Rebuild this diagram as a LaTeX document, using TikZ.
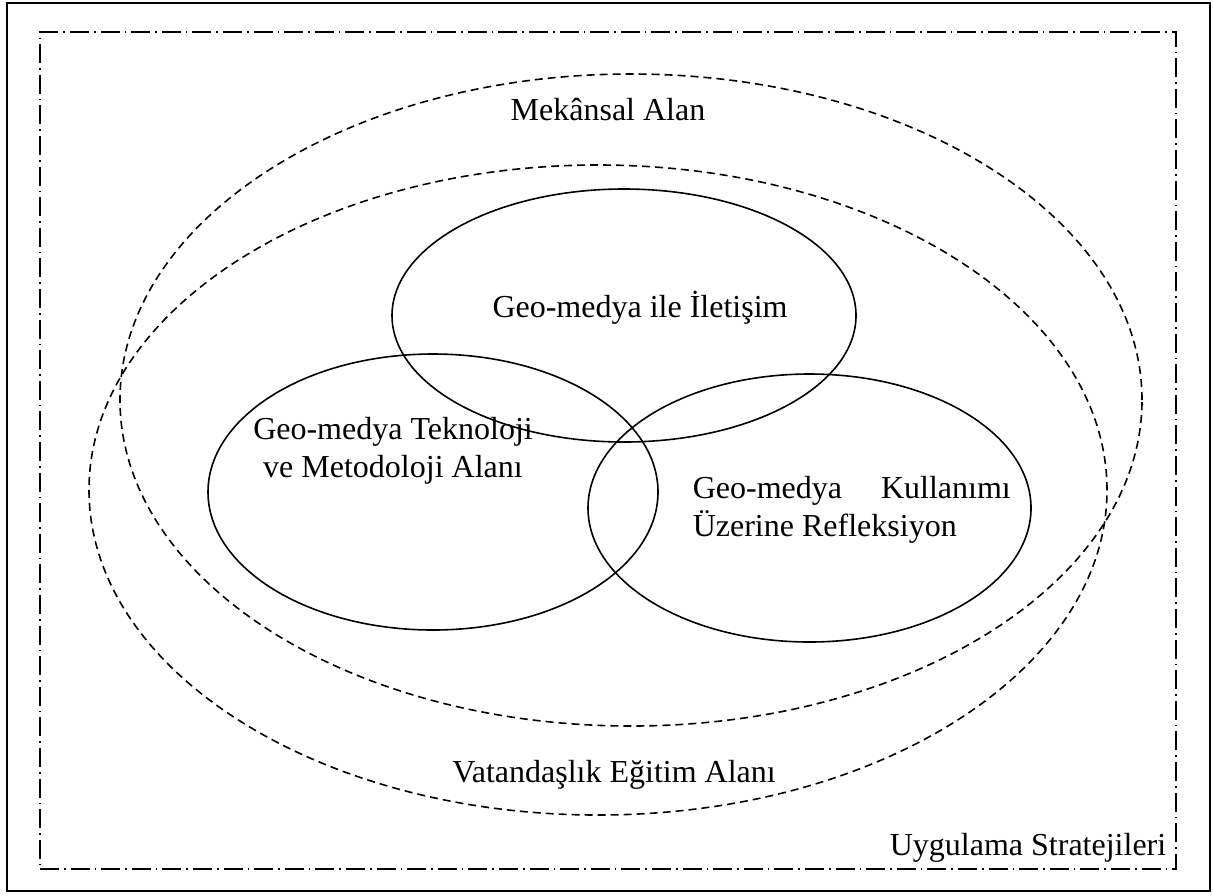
\documentclass[tikz,border=0pt]{standalone}
\usepackage{fontspec}
\setmainfont{Liberation Serif}
\usetikzlibrary{shapes.geometric}
\begin{document}
\begin{tikzpicture}[x=0.5pt,y=-0.5pt,line width=0.8pt,
	realm/.style={ellipse,draw,dash pattern=on 4pt off 2.5pt,inner sep=0pt},
	topic/.style={ellipse,draw,inner sep=0pt},
	label text/.style={font=\fontsize{16}{19}\selectfont,inner sep=0pt}]
				\useasboundingbox (0,0) rectangle (1213,895);
				\node[draw,line width=1pt,minimum width=601.5pt,minimum height=444pt,inner sep=0pt] (page) at (608.5,447) {};
				\node[draw,dash pattern=on 9.5pt off 2.5pt on 0.8pt off 2.5pt,minimum width=568pt,minimum height=418.5pt,inner sep=0pt] (strategy) at (608,450.5) {};

				\node[realm,minimum width=511pt,minimum height=326pt] (spatial) at (631,400) {};
				\node[realm,minimum width=509pt,minimum height=325pt] (civic) at (598,490) {};

				\node[topic,minimum width=232pt,minimum height=126.5pt] (comm) at (624,315.5) {};
				\node[topic,minimum width=225pt,minimum height=138pt] (tech) at (433,492) {};
				\node[topic,minimum width=221.5pt,minimum height=134pt] (reflect) at (809.5,508) {};

				\node[label text,anchor=base] (spatial label) at (608,120) {Mekânsal Alan};
				\node[label text,anchor=base] (civic label) at (614,782) {Vatandaşlık Eğitim Alanı};
				\node[label text,anchor=base east] (strategy label) at (1167,855) {Uygulama Stratejileri};
				\node[label text,anchor=base] (comm label) at (640,317) {Geo-medya ile İletişim};
				\node[label text,align=center,anchor=north] (tech label) at (393,416) {Geo-medya Teknoloji\\ve Metodoloji Alanı};
				\node[label text,align=flush left,text width=159pt,anchor=north west] (reflect label) at (692,475) {Geo-medya\hfill Kullanımı\\Üzerine Refleksiyon};
			\end{tikzpicture}
\end{document}
